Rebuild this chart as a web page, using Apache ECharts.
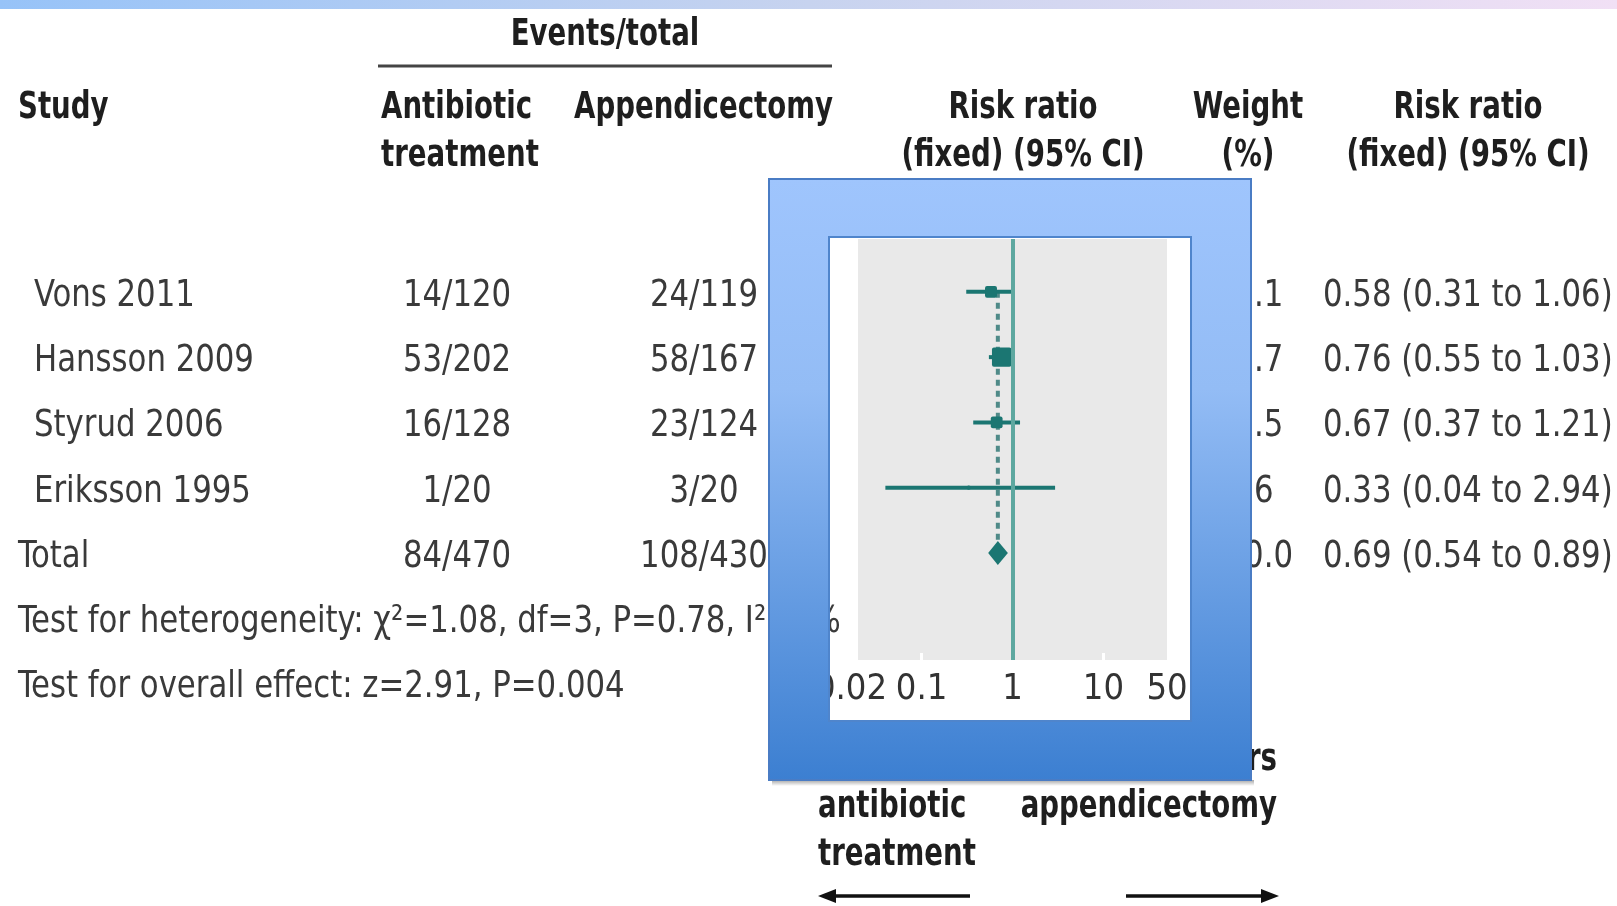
<!DOCTYPE html>
<html>
<head>
<meta charset="utf-8">
<script src="https://cdn.jsdelivr.net/npm/echarts@6/dist/echarts.min.js"></script>
<style>
  html, body { margin: 0; padding: 0; background: #fff; }
  #chart { width: 1617px; height: 906px; }
</style>
</head>
<body>
<div id="chart"></div>
<script>
// ---- data ----
const studies = ['Vons 2011', 'Hansson 2009', 'Styrud 2006', 'Eriksson 1995'];
const totalLabel = 'Total';
const antibioticEvents = ['14/120', '53/202', '16/128', '1/20', '84/470'];
const appendicectomyEvents = ['24/119', '58/167', '23/124', '3/20', '108/430'];
const weights = [21.1, 55.7, 20.5, 2.6, 100.0];
const riskRatio = [0.58, 0.76, 0.67, 0.33, 0.69];
const ciLow = [0.31, 0.55, 0.37, 0.04, 0.54];
const ciHigh = [1.06, 1.03, 1.21, 2.94, 0.89];
const tickValues = [0.02, 0.1, 1, 10, 50];
const tickLabels = ['0.02', '0.1', '1', '10', '50'];
const heterogeneityText = 'Test for heterogeneity: \u03C7\u00B2=1.08, df=3, P=0.78, I\u00B2=0%';
const overallText = 'Test for overall effect: z=2.91, P=0.004';

// ---- styling ----
const FONT = "'DejaVu Sans Condensed', 'DejaVu Sans', sans-serif";
const TEAL = '#1b7672';
const TEAL_LIGHT = '#5ea8a0';
const TXT = '#3a3a3a';
const HEAD = '#1e1e1e';

const chart = echarts.init(document.getElementById('chart'), null, { renderer: 'canvas' });

const nStudies = studies.length;
const studyData = studies.map((s, i) => [i, riskRatio[i], ciLow[i], ciHigh[i], weights[i]]);
const totalData = [[nStudies, riskRatio[nStudies], ciLow[nStudies], ciHigh[nStudies]]];
const pooledLine = [[riskRatio[nStudies], 0, nStudies]];

function tickFormatter(v) {
  const k = tickValues.findIndex(t => Math.abs(Math.log10(t) - Math.log10(v)) < 1e-6);
  if (k < 0) return '';
  return k === 0 ? '{first|' + tickLabels[k] + '}' : tickLabels[k];
}

const baseOption = {
  animation: false,
  grid: {
    left: 858, top: 239, width: 309, height: 421,
    show: true, backgroundColor: '#e9e9e9', borderWidth: 0
  },
  xAxis: {
    type: 'log', logBase: 10, min: 0.02, max: 50,
    axisLine: { show: false, onZero: false },
    splitLine: { show: false },
    axisTick: {
      show: true, inside: true, length: 7,
      customValues: [0.1, 10],
      lineStyle: { color: '#ffffff', width: 3 }
    },
    axisLabel: {
      show: true, margin: 12, showMinLabel: true, showMaxLabel: true,
      customValues: tickValues,
      formatter: tickFormatter,
      fontFamily: FONT, fontSize: 36, color: '#333',
      rich: {
        first: { fontFamily: FONT, fontSize: 36, color: '#333', padding: [0, 14, 0, 0] }
      }
    }
  },
  yAxis: {
    type: 'value', inverse: true, min: -0.81, max: 5.64, show: false
  },
  series: [
    {
      type: 'custom', name: 'pooled', z: 2,
      data: pooledLine,
      encode: { x: 0, y: [1, 2] },
      renderItem: function (params, api) {
        const a = api.coord([api.value(0), api.value(1)]);
        const b = api.coord([api.value(0), api.value(2)]);
        return {
          type: 'line',
          shape: { x1: a[0], y1: a[1], x2: b[0], y2: b[1] },
          style: { stroke: '#4f8a88', lineWidth: 4, lineDash: [6, 5] }
        };
      },
      markLine: {
        silent: true, symbol: 'none', label: { show: false },
        lineStyle: { color: TEAL_LIGHT, width: 4, type: 'solid' },
        data: [{ xAxis: 1 }]
      }
    },
    {
      type: 'custom', name: 'studies', z: 3,
      data: studyData,
      encode: { x: [1, 2, 3], y: 0 },
      renderItem: function (params, api) {
        const i = api.value(0);
        const p = api.coord([api.value(1), i]);
        const l = api.coord([api.value(2), i]);
        const h = api.coord([api.value(3), i]);
        const s = 2.6 * Math.sqrt(api.value(4));
        return {
          type: 'group',
          children: [
            { type: 'line', shape: { x1: l[0], y1: p[1], x2: h[0], y2: p[1] },
              style: { stroke: TEAL, lineWidth: 4 } },
            { type: 'rect', shape: { x: p[0] - s / 2, y: p[1] - s / 2, width: s, height: s, r: 2 },
              style: { fill: TEAL } }
          ]
        };
      }
    },
    {
      type: 'custom', name: 'total', z: 3,
      data: totalData,
      encode: { x: [1, 2, 3], y: 0 },
      renderItem: function (params, api) {
        const i = api.value(0);
        const p = api.coord([api.value(1), i]);
        const l = api.coord([api.value(2), i]);
        const h = api.coord([api.value(3), i]);
        const hh = 12;
        return {
          type: 'polygon',
          shape: { points: [[l[0], p[1]], [p[0], p[1] - hh], [h[0], p[1]], [p[0], p[1] + hh]] },
          style: { fill: TEAL }
        };
      }
    }
  ]
};

chart.setOption(baseOption);

// ---- table text positioned on the same row scale ----
function rowY(i) { return chart.convertToPixel({ gridIndex: 0 }, [1, i])[1]; }

const g = [];
const DY = 4;
function txt(text, x, y, align, bold, color) {
  g.push({
    type: 'text', x: x, y: y + DY, z: 1, silent: true,
    scaleX: bold ? 0.83 : 0.9,
    style: {
      text: text, align: align, verticalAlign: 'middle',
      font: (bold ? 'bold 37px ' : '38px ') + FONT,
      fill: color
    }
  });
}

// top gradient bar
g.push({
  type: 'rect', z: 1, silent: true,
  shape: { x: 0, y: 0, width: 1617, height: 9 },
  style: { fill: new echarts.graphic.LinearGradient(0, 0, 1, 0, [
    { offset: 0, color: '#97c3f8' }, { offset: 0.5, color: '#c7d3ef' }, { offset: 1, color: '#f1e0f5' }
  ]) }
});

// headers
txt('Events/total', 605, 31, 'center', true, HEAD);
g.push({ type: 'line', z: 1, silent: true,
  shape: { x1: 378, y1: 66, x2: 832, y2: 66 }, style: { stroke: '#444', lineWidth: 3 } });
txt('Study', 18, 104, 'left', true, HEAD);
txt('Antibiotic', 381, 104, 'left', true, HEAD);
txt('treatment', 381, 152, 'left', true, HEAD);
txt('Appendicectomy', 574, 104, 'left', true, HEAD);
txt('Risk ratio', 1023, 104, 'center', true, HEAD);
txt('(fixed) (95% CI)', 1023, 152, 'center', true, HEAD);
txt('Weight', 1248, 104, 'center', true, HEAD);
txt('(%)', 1248, 152, 'center', true, HEAD);
txt('Risk ratio', 1468, 104, 'center', true, HEAD);
txt('(fixed) (95% CI)', 1468, 152, 'center', true, HEAD);

// rows
const rowLabels = studies.concat([totalLabel]);
rowLabels.forEach((name, i) => {
  const y = rowY(i);
  txt(name, i < nStudies ? 34 : 18, y, 'left', false, TXT);
  txt(antibioticEvents[i], 457, y, 'center', false, TXT);
  txt(appendicectomyEvents[i], 704, y, 'center', false, TXT);
  txt(weights[i].toFixed(1), 1249, y, 'center', false, TXT);
  txt(riskRatio[i].toFixed(2) + ' (' + ciLow[i].toFixed(2) + ' to ' + ciHigh[i].toFixed(2) + ')',
      1323, y, 'left', false, TXT);
});
const step = rowY(1) - rowY(0);
txt(heterogeneityText, 18, rowY(nStudies) + step, 'left', false, TXT);
txt(overallText, 18, rowY(nStudies) + 2 * step, 'left', false, TXT);

// favours labels
txt('Favours', 818, 756, 'left', true, HEAD);
txt('antibiotic', 818, 803, 'left', true, HEAD);
txt('treatment', 818, 851, 'left', true, HEAD);
txt('Favours', 1277, 756, 'right', true, HEAD);
txt('appendicectomy', 1277, 803, 'right', true, HEAD);

// arrows
g.push({ type: 'line', z: 1, silent: true, shape: { x1: 832, y1: 896, x2: 970, y2: 896 },
  style: { stroke: '#111', lineWidth: 3.5 } });
g.push({ type: 'polygon', z: 1, silent: true, shape: { points: [[818, 896], [836, 889], [836, 903]] },
  style: { fill: '#111' } });
g.push({ type: 'line', z: 1, silent: true, shape: { x1: 1126, y1: 896, x2: 1264, y2: 896 },
  style: { stroke: '#111', lineWidth: 3.5 } });
g.push({ type: 'polygon', z: 1, silent: true, shape: { points: [[1279, 896], [1261, 889], [1261, 903]] },
  style: { fill: '#111' } });

// blue frame overlay: four pieces sharing one global gradient
const OX = 769, OY = 179, OR = 1251, OB = 780;
const IX = 829, IY = 237, IR = 1191, IB = 721;
function ringFill() {
  return new echarts.graphic.LinearGradient(0, OY, 0, OB, [
    { offset: 0, color: '#9fc5fd' }, { offset: 0.35, color: '#93bcf5' }, { offset: 1, color: '#3c7fd1' }
  ], true);
}
// shadow below the frame
g.push({ type: 'rect', z: 99, silent: true,
  shape: { x: OX + 3, y: OB, width: OR - OX, height: 6 },
  style: { fill: new echarts.graphic.LinearGradient(0, 0, 0, 1, [
    { offset: 0, color: 'rgba(0,0,0,0.35)' }, { offset: 1, color: 'rgba(0,0,0,0)' }]) } });
[
  [OX, OY, OR - OX, IY - OY],
  [OX, IB, OR - OX, OB - IB],
  [OX, IY, IX - OX, IB - IY],
  [IR, IY, OR - IR, IB - IY]
].forEach(r => {
  g.push({ type: 'rect', z: 100, silent: true,
    shape: { x: r[0], y: r[1], width: r[2], height: r[3] },
    style: { fill: ringFill(), stroke: null } });
});
g.push({ type: 'rect', z: 101, silent: true,
  shape: { x: OX, y: OY, width: OR - OX, height: OB - OY },
  style: { fill: null, stroke: '#4a7cc4', lineWidth: 2 } });
g.push({ type: 'rect', z: 101, silent: true,
  shape: { x: IX, y: IY, width: IR - IX, height: IB - IY },
  style: { fill: null, stroke: '#4f85cc', lineWidth: 2 } });

chart.setOption({ graphic: { elements: g } });
</script>
</body>
</html>
